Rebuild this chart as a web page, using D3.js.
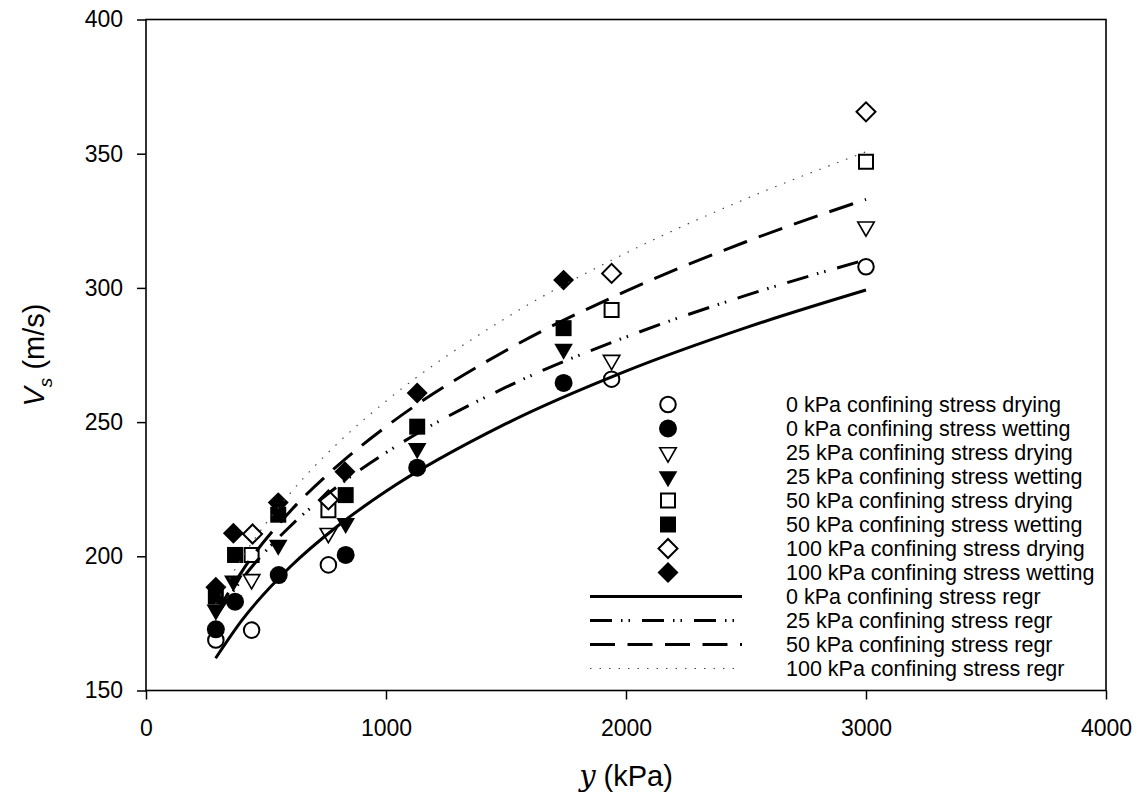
<!DOCTYPE html>
<html>
<head>
<meta charset="utf-8">
<script src="https://cdn.jsdelivr.net/npm/d3@7"></script>
<style>
  html, body { margin: 0; padding: 0; background: #fff; }
  svg { display: block; }
  text { font-family: "Liberation Sans", Arial, sans-serif; fill: #000; }
</style>
</head>
<body>
<svg id="chart" width="1141" height="808"></svg>
<script>
// ---------------- data ----------------
const xTicks = [0, 1000, 2000, 3000, 4000];
const yTicks = [150, 200, 250, 300, 350, 400];

// measured points (suction kPa, Vs m/s)
const dry0x  = [291, 440, 760, 1940, 3000];
const dry0y  = [168.8, 172.5, 196.8, 266.0, 307.9];
const wet0x  = [291, 371, 553, 832, 1130, 1740];
const wet0y  = [172.8, 183.1, 193.0, 200.5, 233.0, 264.6];
const dry25x = [440, 760, 1940, 3000];
const dry25y = [191.4, 208.6, 273.1, 322.8];
const wet25x = [291, 364, 551, 832, 1130, 1740];
const wet25y = [180.0, 190.8, 204.2, 212.3, 240.2, 277.2];
const dry50x = [440, 760, 1940, 3000];
const dry50y = [200.5, 217.2, 291.8, 347.0];
const wet50x = [291, 371, 551, 832, 1130, 1740];
const wet50y = [185.0, 200.5, 215.5, 222.8, 248.3, 285.0];
const dry100x = [444, 760, 1940, 3000];
const dry100y = [208.3, 221.0, 305.4, 365.6];
const wet100x = [291, 364, 551, 829, 1130, 1740];
const wet100y = [188.5, 208.6, 220.0, 231.5, 260.8, 302.9];

// regression curves
const regX    = [290, 400, 600, 800, 1000, 1500, 2000, 2500, 3000];
const reg0y   = [162.0, 176.2, 196.0, 211.4, 224.2, 249.4, 269.0, 285.2, 299.2];
const reg25y  = [177.3, 191.5, 211.1, 226.2, 238.6, 263.0, 281.7, 297.2, 310.5];
const reg50y  = [178.4, 194.4, 216.7, 233.9, 248.3, 276.7, 298.8, 317.2, 333.0];
const reg100y = [182.3, 199.4, 223.4, 242.2, 257.8, 288.8, 313.0, 333.2, 350.7];

const seriesNames = [
  "0 kPa confining stress drying", "0 kPa confining stress wetting",
  "25 kPa confining stress drying", "25 kPa confining stress wetting",
  "50 kPa confining stress drying", "50 kPa confining stress wetting",
  "100 kPa confining stress drying", "100 kPa confining stress wetting"
];
const regNames = [
  "0 kPa confining stress regr", "25 kPa confining stress regr",
  "50 kPa confining stress regr", "100 kPa confining stress regr"
];

// ---------------- build ----------------
const svg = d3.select("#chart");
const L = 146, R = 1106, T = 19.5, B = 690.5;
const x = d3.scaleLinear().domain([0, 4000]).range([L, R]);
const y = d3.scaleLinear().domain([150, 400]).range([B, T]);

const zip = (xs, ys) => xs.map((v, i) => [v, ys[i]]);

const markerStyles = [
  {shape: "circle", fill: false}, {shape: "circle", fill: true},
  {shape: "tri", fill: false},    {shape: "tri", fill: true},
  {shape: "square", fill: false}, {shape: "square", fill: true},
  {shape: "diamond", fill: false},{shape: "diamond", fill: true}
];
const pointSets = [
  zip(dry0x, dry0y), zip(wet0x, wet0y),
  zip(dry25x, dry25y), zip(wet25x, wet25y),
  zip(dry50x, dry50y), zip(wet50x, wet50y),
  zip(dry100x, dry100y), zip(wet100x, wet100y)
];

function symPath(shape, fill) {
  if (shape === "circle") return d3.symbol(d3.symbolCircle, fill ? 254 : 190)();
  if (shape === "tri") return d3.symbol(d3.symbolTriangle, fill ? 150 : 118)();
  if (shape === "square") return d3.symbol(d3.symbolSquare, fill ? 256 : 196)();
  if (shape === "diamond") return d3.symbol(d3.symbolSquare, fill ? 220 : 180)();
}
function symTransform(shape, cx, cy) {
  if (shape === "tri") return `translate(${cx},${cy}) rotate(180)`;
  if (shape === "diamond") return `translate(${cx},${cy}) rotate(45)`;
  return `translate(${cx},${cy})`;
}
function drawMarker(g, st, cx, cy) {
  g.append("path")
    .attr("d", symPath(st.shape, st.fill))
    .attr("transform", symTransform(st.shape, cx, cy))
    .attr("fill", st.fill ? "#000" : "#fff")
    .attr("stroke", st.fill ? "none" : "#000")
    .attr("stroke-width", st.shape === "tri" ? 1.6 : 2);
}

const lineStyles = [
  {dash: null, width: 3, color: "#000"},
  {dash: "22,9,1.5,6,1.5,12", width: 3, color: "#000"},
  {dash: "25,12.5", width: 3, color: "#000"},
  {dash: "1.5,8", width: 1.2, color: "#444"}
];
const regSets = [zip(regX, reg0y), zip(regX, reg25y), zip(regX, reg50y), zip(regX, reg100y)];

// axes
const yAxis = d3.axisLeft(y).tickValues(yTicks).tickSize(9).tickPadding(14).tickFormat(d3.format("d"));
const xAxis = d3.axisBottom(x).tickValues(xTicks).tickSize(9).tickPadding(20).tickFormat(d3.format("d"));

const gy = svg.append("g").attr("transform", `translate(${L},0)`).call(yAxis);
const gx = svg.append("g").attr("transform", `translate(0,${B})`).call(xAxis);
[gy, gx].forEach(g => {
  g.select(".domain").remove();
  g.selectAll(".tick line").attr("stroke", "#000").attr("stroke-width", 1.5);
  g.selectAll(".tick text").style("font-size", "23px").attr("fill", "#000");
});

// frame
svg.append("rect").attr("x", L).attr("y", T).attr("width", R - L).attr("height", B - T)
  .attr("fill", "none").attr("stroke", "#000").attr("stroke-width", 1.6);

// markers
const gm = svg.append("g");
pointSets.forEach((pts, i) => {
  pts.forEach(p => drawMarker(gm, markerStyles[i], x(p[0]), y(p[1])));
});

// regression lines
const line = d3.line().x(d => x(d[0])).y(d => y(d[1])).curve(d3.curveMonotoneX);
regSets.forEach((pts, i) => {
  const s = lineStyles[i];
  svg.append("path").attr("d", line(pts))
    .attr("fill", "none").attr("stroke", s.color)
    .attr("stroke-width", s.width)
    .attr("stroke-dasharray", s.dash);
});

// legend
const lg = svg.append("g");
const rowY0 = 404.5, rowH = 24, symX = 668, txtX = 786, lnX0 = 590, lnX1 = 742;
seriesNames.forEach((name, i) => {
  const ry = rowY0 + i * rowH;
  drawMarker(lg, markerStyles[i], symX, ry);
  lg.append("text").attr("x", txtX).attr("y", ry + 7.5).style("font-size", "21.5px").text(name);
});
regNames.forEach((name, j) => {
  const ry = rowY0 + (8 + j) * rowH;
  const s = lineStyles[j];
  lg.append("line").attr("x1", lnX0).attr("x2", lnX1).attr("y1", ry).attr("y2", ry)
    .attr("stroke", s.color).attr("stroke-width", s.width).attr("stroke-dasharray", s.dash);
  lg.append("text").attr("x", txtX).attr("y", ry + 7.5).style("font-size", "21.5px").text(name);
});

// axis titles
const yl = svg.append("text")
  .attr("transform", `translate(44,${(T + B) / 2}) rotate(-90)`)
  .attr("text-anchor", "middle")
  .style("font-size", "29px");
yl.append("tspan").style("font-style", "italic").text("V");
yl.append("tspan").attr("dy", 8).style("font-size", "19px").style("font-style", "italic").text("s");
yl.append("tspan").attr("dy", -8).text(" (m/s)");

const xl = svg.append("text")
  .attr("x", (L + R) / 2).attr("y", 786)
  .attr("text-anchor", "middle")
  .style("font-size", "29px");
xl.append("tspan").style("font-style", "italic").style("font-family", "'DejaVu Serif', serif").text("y");
xl.append("tspan").text(" (kPa)");
</script>
</body>
</html>
